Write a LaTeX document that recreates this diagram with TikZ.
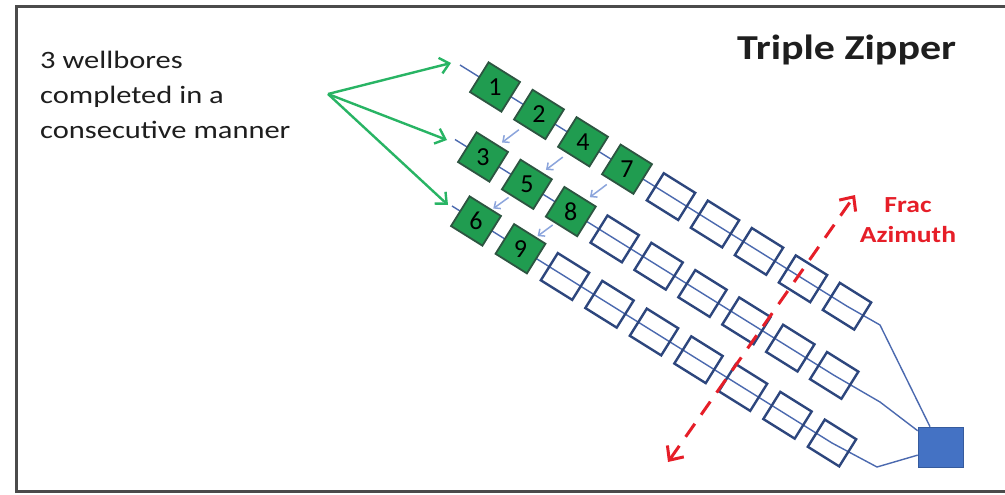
\documentclass[tikz,border=0pt]{standalone}
\usepackage{fontspec}
\setmainfont{Carlito}
\usetikzlibrary{arrows.meta,calc}
\definecolor{gfill}{RGB}{32,156,80}
\definecolor{gdraw}{RGB}{45,85,65}
\definecolor{sqdraw}{RGB}{45,70,125}
\definecolor{wellc}{RGB}{75,105,175}
\definecolor{padc}{RGB}{68,114,196}
\definecolor{arrg}{RGB}{40,180,100}
\definecolor{fracred}{RGB}{230,30,40}
\definecolor{seqblue}{RGB}{140,165,220}
\definecolor{framec}{RGB}{75,75,75}
\definecolor{txtc}{RGB}{30,30,30}
\begin{document}
\begin{tikzpicture}[x=1pt,y=-1pt,
  gsq/.style={draw=gdraw, fill=gfill, line width=1.8pt, minimum width=37pt, minimum height=35pt, inner sep=0pt, rotate=-32, font=\fontsize{26}{26}\selectfont},
  esq/.style={draw=sqdraw, line width=2.4pt, minimum width=37pt, minimum height=32pt, inner sep=0pt, rotate=-32},
  well/.style={draw=wellc, line width=1.4pt, line join=round},
  pointer/.style={draw=arrg, line width=2.4pt, -{Straight Barb[length=9pt,width=16pt,line width=2.4pt]}},
  seq/.style={draw=seqblue, line width=1.5pt, -{Straight Barb[length=5pt,width=9pt,line width=1.5pt]}},
  fracarrow/.style={draw=fracred, line width=3pt, dash pattern=on 16pt off 11pt,
    {Straight Barb[length=11pt,width=20pt,line width=3pt]}-{Straight Barb[length=11pt,width=20pt,line width=3pt]}},
  padbox/.style={fill=padc, draw=padc!80!black, line width=0.6pt, minimum width=45pt, minimum height=40pt, inner sep=0pt}
]
\useasboundingbox (0,0) rectangle (1005,495);
\fill[white] (0,0) rectangle (1005,495);
\draw[framec, line width=3pt] (16,7) rectangle (1015,491);

% texts
\node[anchor=base west, inner sep=0pt, text=txtc] (lbl) at (40,69)
  {\scalebox{1.22}[1]{\fontsize{25}{35}\selectfont\begin{tabular}[t]{@{}l@{}}3 wellbores\\completed in a\\consecutive manner\end{tabular}}};
\node[anchor=base west, inner sep=0pt, text=txtc] (title) at (737,60)
  {\scalebox{1.2}[1]{\fontsize{35}{40}\selectfont\bfseries Triple Zipper}};
\node[anchor=base, inner sep=0pt, text=fracred] (frac) at (908,212)
  {\scalebox{1.2}[1]{\fontsize{23}{30}\selectfont\bfseries\begin{tabular}[t]{@{}c@{}}Frac\\Azimuth\end{tabular}}};

% centres of the stages
\foreach \i in {0,...,8} {
  \coordinate (A\i) at ({495+44*\i},{87+27.4*\i});
  \coordinate (B\i) at ({483+43.9*\i},{157+27.3*\i});
  \coordinate (C\i) at ({476+44.5*\i},{221+27.75*\i});
}
\coordinate (As) at (460,65);
\coordinate (Bs) at (455,139.5);
\coordinate (Cs) at (452,206);
\coordinate (Ae) at (880,325);
\coordinate (Be) at (880,402);
\coordinate (Ce) at (877,467);

% pad
\node[padbox] (pad) at (940.5,447) {};

% wellbores
\draw[well] (As) -- (A8) -- (Ae) -- ($(pad.north west)!0.27!(pad.north east)$);
\draw[well] (Bs) -- (B8) -- (Be) -- ($(pad.north west)!0.1!(pad.south west)$);
\draw[well] (Cs) -- (C8) -- (Ce) -- ($(pad.north west)!0.7!(pad.south west)$);

% empty stages
\foreach \i in {4,...,8} \node[esq] (a\i) at (A\i) {};
\foreach \i in {3,...,8} \node[esq] (b\i) at (B\i) {};
\foreach \i in {2,...,8} \node[esq] (c\i) at (C\i) {};

% completed stages
\node[gsq] (g1) at (A0) {\rotatebox{32}{1}};
\node[gsq] (g2) at (A1) {\rotatebox{32}{2}};
\node[gsq] (g4) at (A2) {\rotatebox{32}{4}};
\node[gsq] (g7) at (A3) {\rotatebox{32}{7}};
\node[gsq] (g3) at (B0) {\rotatebox{32}{3}};
\node[gsq] (g5) at (B1) {\rotatebox{32}{5}};
\node[gsq] (g8) at (B2) {\rotatebox{32}{8}};
\node[gsq] (g6) at (C0) {\rotatebox{32}{6}};
\node[gsq] (g9) at (C1) {\rotatebox{32}{9}};

% sequence arrows
\draw[seq] ($(g2)!0.36!(g3)$) -- ($(g2)!0.66!(g3)$);
\draw[seq] ($(g4)!0.36!(g5)$) -- ($(g4)!0.66!(g5)$);
\draw[seq] ($(g5)!0.36!(g6)$) -- ($(g5)!0.66!(g6)$);
\draw[seq] ($(g7)!0.36!(g8)$) -- ($(g7)!0.66!(g8)$);
\draw[seq] ($(g8)!0.36!(g9)$) -- ($(g8)!0.66!(g9)$);

% green pointers
\coordinate (src) at (328,94);
\coordinate (t1) at (451,63);
\coordinate (t2) at (447,140);
\coordinate (t3) at (448,205);
\draw[pointer] (src) -- (t1);
\draw[pointer] (src) -- (t2);
\draw[pointer] (src) -- (t3);

% frac azimuth
\coordinate (fa1) at (668,462);
\coordinate (fa2) at (855,195);
\draw[fracarrow] (fa1) -- (fa2);
\end{tikzpicture}
\end{document}
